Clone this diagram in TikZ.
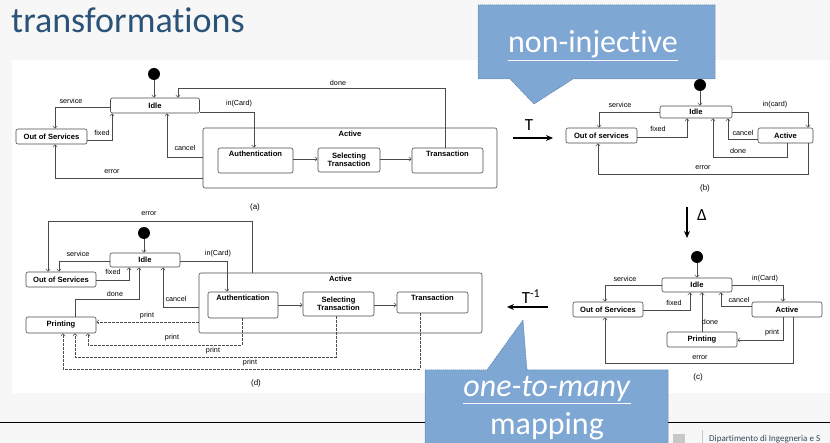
\documentclass[tikz,border=0pt]{standalone}
\usepackage{fontspec}
\setmainfont{Carlito}[Ligatures=NoCommon]
\newfontfamily\diafont{Liberation Sans}
\usetikzlibrary{arrows.meta,calc}

\definecolor{titleblue}{HTML}{2B5378}
\definecolor{callfill}{HTML}{7FA7D3}
\definecolor{calledge}{HTML}{4F78A8}
\definecolor{slidebg}{HTML}{F7F7F7}
\definecolor{wire}{HTML}{4A4A4A}
\definecolor{footgray}{HTML}{C8C8C8}
\definecolor{foottext}{HTML}{34465A}

\newcommand\statefont{\diafont\bfseries\fontsize{7.6}{8}\selectfont}
\newcommand\lblfont{\diafont\fontsize{7.2}{8}\selectfont}

\tikzset{
  stbox/.style 2 args={draw=wire, line width=0.6, rounded corners=2, fill=white,
    font=\statefont, inner sep=0, align=center, minimum width=#1, minimum height=#2},
  boxed/.style n args={3}{stbox={#1}{#2}, label={[statelbl]north:#3}},
  statelbl/.style={font=\statefont, anchor=north, inner sep=0, yshift=-3},
  init/.style={circle, fill=black, inner sep=0, minimum size=12},
  tr/.style={draw=wire, line width=0.5, -{Straight Barb[length=2.5pt,width=4.5pt]}},
  pr/.style={tr, dash pattern=on 2.5pt off 1.5pt},
  lbl/.style={font=\lblfont, inner sep=0},
  figcap/.style={font=\diafont\fontsize{8}{9}\selectfont, inner sep=0},
  big/.style={draw=black, line width=1.3, -{Stealth[length=7pt,width=6pt]}},
  bigtxt/.style={font=\fontsize{17}{18}\selectfont, inner sep=0},
  callbox/.style={fill=callfill, draw=calledge, line width=0.5, dash pattern=on 1.2pt off 0.8pt},
  calltxt/.style={text=white, font=\fontsize{32}{34}\selectfont, inner sep=0, anchor=base}
}

\begin{document}
\begin{tikzpicture}[x=1pt,y=-1pt]
  \useasboundingbox (0,0) rectangle (830,443);
  \clip (0,0) rectangle (830,443);
  \fill[slidebg] (0,0) rectangle (830,443);
  \fill[white] (12,60) rectangle (830,393);
  \node[anchor=base west, text=titleblue, font=\fontsize{36}{40}\selectfont, inner sep=0]
    (title) at (11,33) {transformations};
  \draw[black, line width=0.9] (0,422) -- (830,422);

  % (a) original machine
  \node[init] (aInit) at (154,74) {};
  \node[stbox={89}{15}] (aIdle) at (155,105.5) {Idle};
  \node[stbox={71}{15}] (aOut) at (51.5,136.5) {Out of Services};
  \node[boxed={294}{60}{Active}] (aAct) at (350,158) {};
  \node[boxed={75}{25}{Authentication}] (aAuth) at (255.5,160.5) {};
  \node[stbox={62}{24}] (aSel) at (349,160) {Selecting\\Transaction};
  \node[boxed={71}{25}{Transaction}] (aTrans) at (447.5,160.5) {};
  \draw[tr] (aInit) -- (aInit |- aIdle.north);
  \draw[tr] (aIdle.west |- 0,107) -| (55,0 |- aOut.north);
  \draw[tr] (aOut.east |- 0,140) -| (112,0 |- aIdle.south);
  \draw[tr] (aAct.west |- 0,157) -| (167,0 |- aIdle.south);
  \draw[tr] (aAct.west |- 0,178) -| (55,0 |- aOut.south);
  \draw[tr] (aIdle.east |- 0,112) -| (254,0 |- aAuth.north);
  \draw[tr] (445,0 |- aTrans.north) |- (178,88) -- (178,0 |- aIdle.north);
  \draw[tr] (aAuth.east |- 0,159) -- (aSel.west |- 0,159);
  \draw[tr] (aSel.east |- 0,159) -- (aTrans.west |- 0,159);
  \node[lbl] (aSrvL) at (71,101) {service};
  \node[lbl] (aFixL) at (102,133) {fixed};
  \node[lbl] (aCanL) at (185,148) {cancel};
  \node[lbl] (aErrL) at (112,172) {error};
  \node[lbl] (aInL) at (239,104) {in(Card)};
  \node[lbl] (aDoneL) at (338,83) {done};
  \node[figcap] (aCap) at (255,207) {(a)};

  % (b) abstracted
  \node[init] (bInit) at (700,85) {};
  \node[stbox={72}{12}] (bIdle) at (696,112) {Idle};
  \node[stbox={71}{15}] (bOut) at (601.5,135.5) {Out of services};
  \node[stbox={55}{15}] (bAct) at (785.5,135.5) {Active};
  \draw[tr] (bInit) -- (bInit |- bIdle.north);
  \draw[tr] (bIdle.west) -| (599,0 |- bOut.north);
  \draw[tr] (bOut.east |- 0,137) -| (687,0 |- bIdle.south);
  \draw[tr] (bIdle.east) -| (808,0 |- bAct.north);
  \draw[tr] (bAct.west |- 0,139) -| (728,0 |- bIdle.south);
  \draw[tr] (787,0 |- bAct.south) |- (713,157) -- (713,0 |- bIdle.south);
  \draw[tr] (808,0 |- bAct.south) |- (598,174) -- (598,0 |- bOut.south);
  \node[lbl] (bSrvL) at (620,105) {service};
  \node[lbl] (bFixL) at (658,129) {fixed};
  \node[lbl] (bInL) at (775,105) {in(card)};
  \node[lbl] (bCanL) at (743,133) {cancel};
  \node[lbl] (bDoneL) at (738,151) {done};
  \node[lbl] (bErrL) at (703,168) {error};
  \node[figcap] (bCap) at (705,188) {(b)};

  % (c) changed
  \node[init] (cInit) at (697,257) {};
  \node[stbox={70}{14}] (cIdle) at (697,285) {Idle};
  \node[stbox={70}{15}] (cOut) at (608,309.5) {Out of Services};
  \node[stbox={70}{15}] (cAct) at (787,309.5) {Active};
  \node[stbox={70}{15}] (cPrint) at (702,339.5) {Printing};
  \draw[tr] (cInit) -- (cInit |- cIdle.north);
  \draw[tr] (cIdle.west) -| (605,0 |- cOut.north);
  \draw[tr] (cOut.east |- 0,310) -| (690,0 |- cIdle.south);
  \draw[tr] (cIdle.east) -| (783,0 |- cAct.north);
  \draw[tr] (cAct.west |- 0,306) -| (721,0 |- cIdle.south);
  \draw[tr] (cPrint.north) -- (cPrint.north |- cIdle.south);
  \draw[tr] (783,0 |- cAct.south) |- (cPrint.east |- 0,340);
  \draw[tr] (793,0 |- cAct.south) |- (605,363) -- (605,0 |- cOut.south);
  \node[lbl] (cSrvL) at (625,279) {service};
  \node[lbl] (cFixL) at (674,303) {fixed};
  \node[lbl] (cInL) at (765,279) {in(Card)};
  \node[lbl] (cCanL) at (739,300) {cancel};
  \node[lbl] (cDoneL) at (710,322) {done};
  \node[lbl] (cPrL) at (772,333) {print};
  \node[lbl] (cErrL) at (700,358) {error};
  \node[figcap] (cCap) at (698,377) {(c)};

  % (d) propagated back
  \node[init] (dInit) at (144,233) {};
  \node[stbox={70}{14}] (dIdle) at (145,260) {Idle};
  \node[stbox={70}{15}] (dOut) at (61,279.5) {Out of Services};
  \node[stbox={70}{16}] (dPrint) at (61,325) {Printing};
  \node[boxed={283}{60}{Active}] (dAct) at (340.5,303) {};
  \node[boxed={70}{26}{Authentication}] (dAuth) at (243,305) {};
  \node[stbox={71}{24}] (dSel) at (338.5,304) {Selecting\\Transaction};
  \node[boxed={71}{21}{Transaction}] (dTrans) at (432.5,302.5) {};
  \draw[tr] (dInit) -- (dInit |- dIdle.north);
  \draw[tr] (252,0 |- dAct.north) |- (48,221) -- (48,0 |- dOut.north);
  \draw[tr] (dIdle.west |- 0,261) -| (59,0 |- dOut.north);
  \draw[tr] (dOut.east |- 0,280) -| (129,0 |- dIdle.south);
  \draw[tr] (75,0 |- dPrint.north) |- (139,299) -- (139,0 |- dIdle.south);
  \draw[tr] (dAct.west |- 0,307) -| (163,0 |- dIdle.south);
  \draw[tr] (dIdle.east |- 0,261) -| (227,0 |- dAuth.north);
  \draw[tr] (dAuth.east |- 0,305) -- (dSel.west |- 0,305);
  \draw[tr] (dSel.east |- 0,305) -- (dTrans.west |- 0,305);
  \draw[pr] (dAct.west |- 0,322) -- (dPrint.east |- 0,322);
  \draw[pr] (242,0 |- dAuth.south) |- (88,345) -- (88,0 |- dPrint.south);
  \draw[pr] (336,0 |- dSel.south) |- (75,357) -- (75,0 |- dPrint.south);
  \draw[pr] (420,0 |- dTrans.south) |- (63,369) -- (63,0 |- dPrint.south);
  \node[lbl] (dErrL) at (149,214) {error};
  \node[lbl] (dSrvL) at (78,254) {service};
  \node[lbl] (dFixL) at (113,272) {fixed};
  \node[lbl] (dDoneL) at (115,294) {done};
  \node[lbl] (dCanL) at (176,299) {cancel};
  \node[lbl] (dInL) at (218,254) {in(Card)};
  \node[lbl] (dPrL1) at (147,316) {print};
  \node[lbl] (dPrL2) at (172,338) {print};
  \node[lbl] (dPrL3) at (213,351) {print};
  \node[lbl] (dPrL4) at (250,363) {print};
  \node[figcap] (dCap) at (256,383) {(d)};

  % transformation arrows
  \coordinate (tA) at (513,138);
  \coordinate (tB) at (553,138);
  \draw[big] (tA) -- (tB);
  \node[bigtxt] (tLbl) at (529,125) {T};
  \coordinate (deA) at (687,207);
  \coordinate (deB) at (687,238);
  \draw[big] (deA) -- (deB);
  \node[bigtxt] (deLbl) at (702,215) {Δ};
  \coordinate (tiA) at (548,307);
  \coordinate (tiB) at (507,307);
  \draw[big] (tiA) -- (tiB);
  \node[bigtxt] (tiLbl) at (531,297) {T\textsuperscript{-1}};

  % callouts
  \path[callbox] (478,5) -- (715,5) -- (715,79) -- (573,79) -- (534,104)
    -- (510,79) -- (478,79) -- cycle;
  \node[calltxt] (nonInj) at (593,53) {\underline{non-injective}};
  \path[callbox] (425,370) -- (487,370) -- (523,320) -- (527,370) -- (668,370)
    -- (668,446) -- (425,446) -- cycle;
  \node[calltxt] (oneMany) at (547,397) {\underline{\textit{one-to-many}}};
  \node[calltxt] (mapTxt) at (547,435) {mapping};

  % footer
  \fill[footgray] (673,434) rectangle (685,446);
  \draw[footgray, line width=0.8] (702,430) -- (702,446);
  \node[anchor=base west, inner sep=0, text=foottext, font=\fontsize{9}{10}\selectfont]
    (foot) at (709,441) {Dipartimento di Ingegneria e S};
\end{tikzpicture}
\end{document}
